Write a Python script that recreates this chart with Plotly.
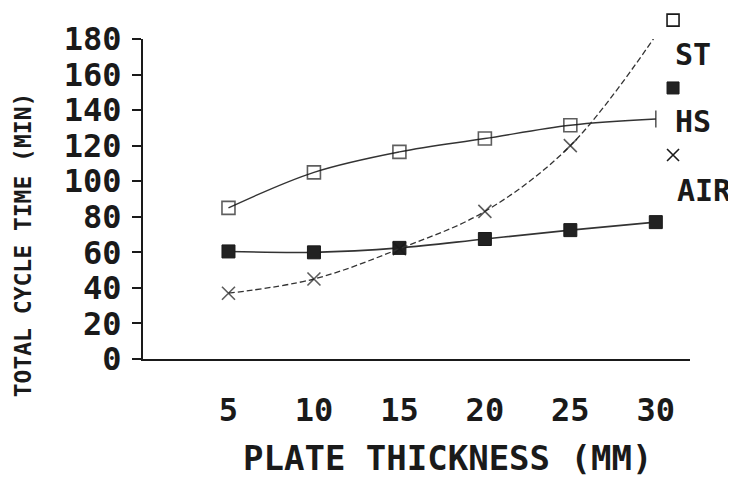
import plotly.graph_objects as go

thickness = [5, 10, 15, 20, 25, 30]
st = [85, 105, 116.5, 124, 131.5, 135]
hs = [60.5, 60, 62.5, 67.5, 72.5, 77]
air = [37, 45, 62, 83, 120, 182]
y_ticks = [0, 20, 40, 60, 80, 100, 120, 140, 160, 180]
x_ticks = [5, 10, 15, 20, 25, 30]
legend_names = ["ST", "HS", "AIR"]
x_title = "PLATE THICKNESS (MM)"
y_title = "TOTAL CYCLE TIME (MIN)"

FONT = "DejaVu Sans Mono, Liberation Mono, monospace"
INK = "#1a1a1a"
LINE = "#333333"

fig = go.Figure()

fig.add_trace(go.Scatter(
    x=thickness, y=st, mode="lines+markers", line=dict(color=LINE, width=1.4, shape="spline"),
    marker=dict(symbol=["square-open"] * 5 + ["line-ns-open"], size=[13] * 5 + [12],
                color=INK, line=dict(color=INK, width=1.6)),
    cliponaxis=False, showlegend=False))
fig.add_trace(go.Scatter(
    x=thickness, y=hs, mode="lines+markers", line=dict(color=LINE, width=1.6, shape="spline"),
    marker=dict(symbol="square", size=13, color="#222222", line=dict(color=INK, width=1)),
    cliponaxis=False, showlegend=False))
fig.add_trace(go.Scatter(
    x=thickness, y=air, mode="lines+markers",
    line=dict(color=LINE, width=1.3, shape="spline", dash="6px,3px"),
    marker=dict(symbol="x-thin", size=[13] * 5 + [0], color=INK, line=dict(color=INK, width=1.6)),
    cliponaxis=False, showlegend=False))

# legend keys (symbol above label), paper coordinates of the plot area
key_pos = [(0.969, 1.059), (0.969, 0.847), (0.969, 0.6375)]
label_pos = [(1.005, 0.953), (1.005, 0.741), (1.026, 0.528)]
shapes = [
    dict(type="rect", xref="paper", yref="paper", xsizemode="pixel", ysizemode="pixel",
         xanchor=key_pos[0][0], yanchor=key_pos[0][1], x0=-6, x1=6, y0=-6, y1=6,
         line=dict(color=INK, width=1.6), fillcolor="white"),
    dict(type="rect", xref="paper", yref="paper", xsizemode="pixel", ysizemode="pixel",
         xanchor=key_pos[1][0], yanchor=key_pos[1][1], x0=-6, x1=6, y0=-6, y1=6,
         line=dict(color=INK, width=1), fillcolor="#222222"),
    dict(type="path", xref="paper", yref="paper", xsizemode="pixel", ysizemode="pixel",
         xanchor=key_pos[2][0], yanchor=key_pos[2][1],
         path="M -6 -6 L 6 6 M -6 6 L 6 -6", line=dict(color=INK, width=1.6)),
]
annotations = []
for name, (px, py) in zip(legend_names, label_pos):
    annotations.append(dict(text=name, xref="paper", yref="paper", x=px, y=py, showarrow=False,
                            xanchor="center", yanchor="middle",
                            font=dict(family=FONT, size=30, color=INK, weight="bold")))
annotations.append(dict(text=x_title, xref="paper", yref="paper", x=0.556, y=-0.31,
                        showarrow=False, xanchor="center", yanchor="middle",
                        font=dict(family=FONT, size=34, color=INK, weight="bold")))
annotations.append(dict(text=y_title, xref="paper", yref="paper", x=-0.219, y=0.356,
                        showarrow=False, xanchor="center", yanchor="middle", textangle=-90,
                        font=dict(family=FONT, size=23, color=INK, weight="bold")))

# page body has an 8px default margin, so the figure is sized to fit the window
fig.update_layout(
    width=728, height=469,
    margin=dict(l=135, r=46, t=31, b=118, pad=0),
    paper_bgcolor="white", plot_bgcolor="white",
    shapes=shapes, annotations=annotations,
    xaxis=dict(range=[0, 32], tickvals=x_ticks, ticktext=[str(v) for v in x_ticks],
               showgrid=False, zeroline=False, showline=True, linecolor=INK, linewidth=2,
               ticks="", ticklabelstandoff=22, automargin=False,
               tickfont=dict(family=FONT, size=32, color=INK, weight="bold")),
    yaxis=dict(range=[0, 180], tickvals=y_ticks, ticktext=[str(v) for v in y_ticks],
               showgrid=False, zeroline=False, showline=True, linecolor=INK, linewidth=2,
               ticks="outside", ticklen=9, tickwidth=1.5, tickcolor=INK, ticklabelstandoff=4,
               automargin=False,
               tickfont=dict(family=FONT, size=32, color=INK, weight="bold")),
)

fig.write_html("out.html")
